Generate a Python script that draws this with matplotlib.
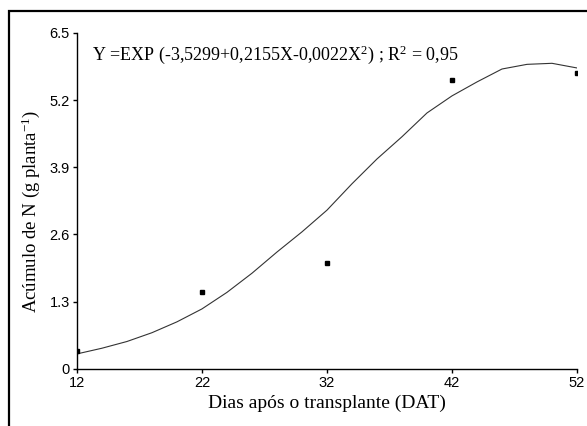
import matplotlib
matplotlib.use("Agg")
import matplotlib.pyplot as plt
from matplotlib.patches import Rectangle

# observed points (DAT, N accumulation)
dias = [12, 22, 32, 42, 52]
acumulo_n = [0.35, 1.49, 2.04, 5.59, 5.73]

# fitted curve
curva_x = [12, 14, 16, 18, 20, 22, 24, 26, 28, 30, 32, 34, 36, 38, 40, 42, 44, 46, 48, 50, 52]
curva_y = [0.29, 0.40, 0.53, 0.70, 0.91, 1.16, 1.48, 1.85, 2.26, 2.65, 3.07, 3.58, 4.06, 4.49,
           4.95, 5.28, 5.55, 5.80, 5.89, 5.91, 5.82]

x_ticks = [12, 22, 32, 42, 52]
y_ticks = [0, 1.3, 2.6, 3.9, 5.2, 6.5]

plt.rcParams['mathtext.fontset'] = 'custom'
plt.rcParams['mathtext.rm'] = 'Liberation Serif'
plt.rcParams['mathtext.it'] = 'Liberation Serif:italic'

fig = plt.figure(figsize=(5.87, 4.26), dpi=100)
ax = fig.add_axes([0.131, 0.134, 0.852, 0.789])

ax.plot(curva_x, curva_y, color='#333333', linewidth=0.8)
ax.plot(dias, acumulo_n, 's', color='black', markersize=2.3)

ax.set_xlim(12, 52)
ax.set_ylim(0, 6.5)
ax.set_xticks(x_ticks)
ax.set_xticklabels([str(v) for v in x_ticks])
ax.set_yticks(y_ticks)
ax.set_yticklabels(['0', '1.3', '2.6', '3.9', '5.2', '6.5'])
ax.spines['top'].set_visible(False)
ax.spines['right'].set_visible(False)
ax.spines['left'].set_linewidth(1.0)
ax.spines['bottom'].set_linewidth(1.0)
ax.tick_params(direction='out', length=3, width=1, pad=2)
for lab in ax.get_xticklabels() + ax.get_yticklabels():
    lab.set_family('Liberation Sans')
    lab.set_fontsize(10.5)

ax.set_xlabel('Dias após o transplante (DAT)', family='Liberation Serif', fontsize=14, va='center')
ax.xaxis.set_label_coords(0.5, -0.103)
ax.set_ylabel('Acúmulo de N (g planta$^{\\mathregular{-1}}$)', family='Liberation Serif', fontsize=13.5,
              va='center')
ax.yaxis.set_label_coords(-0.092, 0.47)

ax.text(0.03, 0.935, 'Y =EXP (-3,5299+0,2155X-0,0022X$^{\\mathregular{2}}$) ; R$^{\\mathregular{2}}$ = 0,95',
        transform=ax.transAxes, family='Liberation Serif', fontsize=13, ha='left', va='center')

# outer frame (right and bottom edges fall outside the image)
fig.patches.append(Rectangle((0.016, -0.1), 1.2, 1.075, transform=fig.transFigure,
                             fill=False, edgecolor='black', linewidth=1.6, clip_on=False))

fig.savefig('out.png', dpi=100)
